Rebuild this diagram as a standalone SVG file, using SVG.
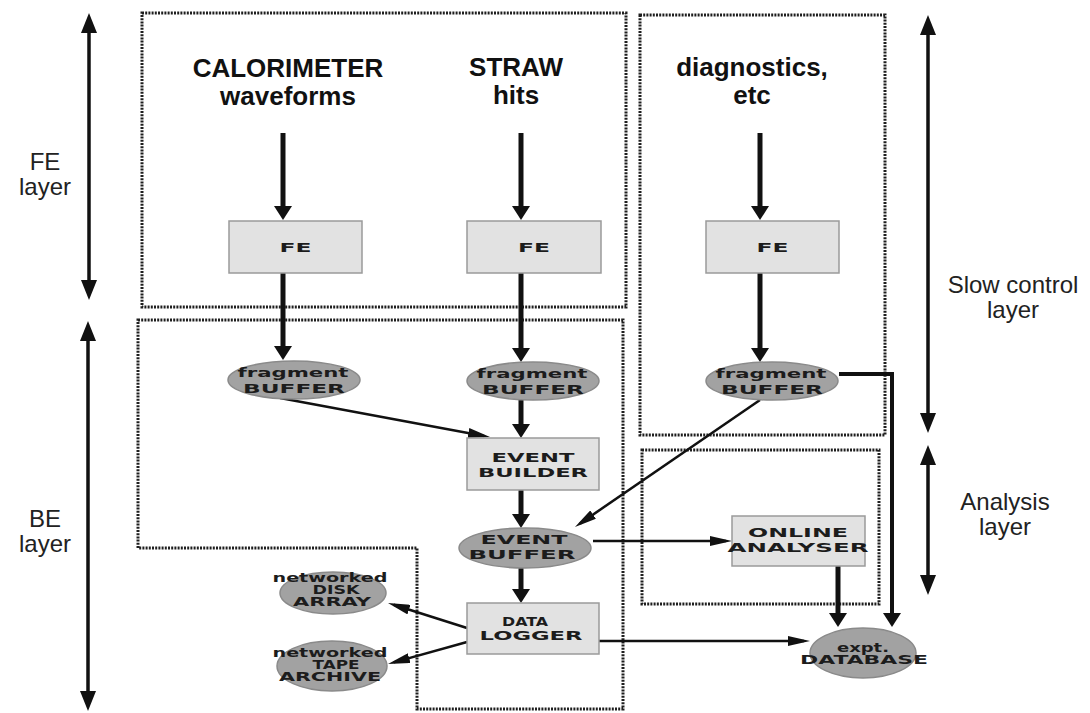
<svg xmlns="http://www.w3.org/2000/svg" width="1090" height="713" viewBox="0 0 1090 713">
<style>
.bg{fill:#fff}
.zone{fill:none;stroke:#1e1e1e;stroke-width:3;stroke-dasharray:2 1.2}
.box{fill:#e2e2e2;stroke:#9a9a9a;stroke-width:1.5}
.ell{fill:#a2a2a2;stroke:#8a8a8a;stroke-width:1.5}
.src{font-family:"Liberation Sans",Arial,sans-serif;font-weight:bold;font-size:26px;fill:#111;text-anchor:middle}
.side{font-family:"Liberation Sans",Arial,sans-serif;font-size:24px;fill:#222;text-anchor:middle}
.nt{font-family:"DejaVu Sans","Liberation Sans",sans-serif;font-weight:bold;font-size:12px;fill:#1c1c1c;text-anchor:middle}
.big{fill:none;stroke:#111;stroke-width:5;marker-end:url(#mBig)}
.thin{fill:none;stroke:#111;stroke-width:2.5;marker-end:url(#mThin)}
.lay{fill:none;stroke:#111;stroke-width:3.5;marker-start:url(#mLay);marker-end:url(#mLay)}
</style>
<defs>
<marker id="mBig" markerUnits="userSpaceOnUse" viewBox="0 0 14 18" markerWidth="14" markerHeight="18" refX="9" refY="9" orient="auto"><path d="M0,0 L14,9 L0,18 z" fill="#111"/></marker>
<marker id="mThin" markerUnits="userSpaceOnUse" viewBox="0 0 22 10" markerWidth="22" markerHeight="10" refX="16" refY="5" orient="auto"><path d="M0,0 L22,5 L0,10 z" fill="#111"/></marker>
<marker id="mLay" markerUnits="userSpaceOnUse" viewBox="0 0 20 16" markerWidth="20" markerHeight="16" refX="15" refY="8" orient="auto-start-reverse"><path d="M0,0 L20,8 L0,16 z" fill="#111"/></marker>
</defs>
<rect class="bg" x="0" y="0" width="1090" height="713"/>

<g id="zones">
<rect class="zone" x="142" y="13" width="484" height="294"/>
<rect class="zone" x="640" y="15" width="245" height="420"/>
<rect class="zone" x="642" y="450" width="237" height="154"/>
<path class="zone" d="M138,320 H623 V709 H417 V548 H138 Z"/>
</g>

<g id="layer-labels">
<text class="side" x="45" y="170">FE</text>
<text class="side" x="45" y="195">layer</text>
<text class="side" x="45" y="527">BE</text>
<text class="side" x="45" y="552">layer</text>
<text class="side" x="1013" y="293">Slow control</text>
<text class="side" x="1013" y="318">layer</text>
<text class="side" x="1005" y="510">Analysis</text>
<text class="side" x="1005" y="535">layer</text>
</g>

<g id="sources">
<text class="src" x="288" y="77">CALORIMETER</text>
<text class="src" x="288" y="105">waveforms</text>
<text class="src" x="516" y="76">STRAW</text>
<text class="src" x="516" y="104">hits</text>
<text class="src" x="752" y="76">diagnostics,</text>
<text class="src" x="752" y="104">etc</text>
</g>

<g id="connectors">
<line class="lay" x1="89" y1="18" x2="89" y2="295"/>
<line class="lay" x1="88" y1="326" x2="88" y2="706"/>
<line class="lay" x1="928" y1="20" x2="928" y2="428"/>
<line class="lay" x1="928" y1="450" x2="928" y2="590"/>

<line class="big" x1="283" y1="133" x2="283" y2="215"/>
<line class="big" x1="521" y1="133" x2="521" y2="215"/>
<line class="big" x1="760" y1="133" x2="760" y2="215"/>
<line class="big" x1="283" y1="273" x2="283" y2="355"/>
<line class="big" x1="521" y1="273" x2="521" y2="357"/>
<line class="big" x1="760" y1="273" x2="760" y2="357"/>
<line class="big" x1="521" y1="400" x2="521" y2="433"/>
<line class="big" x1="521" y1="490" x2="521" y2="523"/>
<line class="big" x1="521" y1="568" x2="521" y2="598"/>
<line class="big" x1="838" y1="566" x2="838" y2="622"/>
<path class="big" d="M839,374 H892 V622" style="stroke-width:4"/>

<line class="thin" x1="280" y1="398" x2="484.1" y2="435.9"/>
<line class="thin" x1="760" y1="400" x2="579.9" y2="523.6"/>
<line class="thin" x1="593" y1="541" x2="726" y2="541"/>
<line class="thin" x1="467" y1="628" x2="393.7" y2="604.8"/>
<line class="thin" x1="467" y1="642" x2="393.8" y2="662.4"/>
<line class="thin" x1="599" y1="641" x2="804" y2="641"/>
</g>

<g id="fe-calo">
<rect class="box" x="229" y="221" width="133" height="52"/>
<text class="nt" x="295.5" y="252" textLength="32" lengthAdjust="spacingAndGlyphs">FE</text>
</g>
<g id="fe-straw">
<rect class="box" x="467" y="221" width="134" height="52"/>
<text class="nt" x="534" y="252" textLength="32" lengthAdjust="spacingAndGlyphs">FE</text>
</g>
<g id="fe-diag">
<rect class="box" x="706" y="221" width="133" height="52"/>
<text class="nt" x="772.5" y="252" textLength="32" lengthAdjust="spacingAndGlyphs">FE</text>
</g>

<g id="frag-calo">
<ellipse class="ell" cx="294" cy="380" rx="66" ry="19"/>
<text class="nt" x="293" y="377" textLength="111" lengthAdjust="spacingAndGlyphs">fragment</text>
<text class="nt" x="294" y="393" textLength="102" lengthAdjust="spacingAndGlyphs">BUFFER</text>
</g>
<g id="frag-straw">
<ellipse class="ell" cx="533" cy="381" rx="66" ry="19"/>
<text class="nt" x="532" y="378" textLength="111" lengthAdjust="spacingAndGlyphs">fragment</text>
<text class="nt" x="533" y="394" textLength="102" lengthAdjust="spacingAndGlyphs">BUFFER</text>
</g>
<g id="frag-diag">
<ellipse class="ell" cx="772" cy="381" rx="66" ry="19"/>
<text class="nt" x="771" y="378" textLength="111" lengthAdjust="spacingAndGlyphs">fragment</text>
<text class="nt" x="772" y="394" textLength="102" lengthAdjust="spacingAndGlyphs">BUFFER</text>
</g>

<g id="event-builder">
<rect class="box" x="467" y="438" width="132" height="52"/>
<text class="nt" x="533" y="462" textLength="83" lengthAdjust="spacingAndGlyphs">EVENT</text>
<text class="nt" x="533" y="477" textLength="110" lengthAdjust="spacingAndGlyphs">BUILDER</text>
</g>

<g id="event-buffer">
<ellipse class="ell" cx="525" cy="548" rx="66" ry="20"/>
<text class="nt" x="524" y="544" textLength="87" lengthAdjust="spacingAndGlyphs">EVENT</text>
<text class="nt" x="522" y="559" textLength="107" lengthAdjust="spacingAndGlyphs">BUFFER</text>
</g>

<g id="data-logger">
<rect class="box" x="467" y="603" width="132" height="51"/>
<text class="nt" x="525" y="626" textLength="46" lengthAdjust="spacingAndGlyphs">DATA</text>
<text class="nt" x="531" y="640" textLength="103" lengthAdjust="spacingAndGlyphs">LOGGER</text>
</g>

<g id="online-analyser">
<rect class="box" x="732" y="516" width="133" height="50"/>
<text class="nt" x="798" y="537" textLength="100" lengthAdjust="spacingAndGlyphs">ONLINE</text>
<text class="nt" x="798" y="552" textLength="141" lengthAdjust="spacingAndGlyphs">ANALYSER</text>
</g>

<g id="disk-array">
<ellipse class="ell" cx="333" cy="593" rx="53" ry="21"/>
<text class="nt" x="330" y="582" textLength="115" lengthAdjust="spacingAndGlyphs">networked</text>
<text class="nt" x="336" y="594" textLength="47" lengthAdjust="spacingAndGlyphs">DISK</text>
<text class="nt" x="332" y="606" textLength="78" lengthAdjust="spacingAndGlyphs">ARRAY</text>
</g>

<g id="tape-archive">
<ellipse class="ell" cx="332" cy="666" rx="55" ry="25"/>
<text class="nt" x="330" y="657" textLength="115" lengthAdjust="spacingAndGlyphs">networked</text>
<text class="nt" x="336" y="669" textLength="47" lengthAdjust="spacingAndGlyphs">TAPE</text>
<text class="nt" x="330" y="681" textLength="102" lengthAdjust="spacingAndGlyphs">ARCHIVE</text>
</g>

<g id="expt-database">
<ellipse class="ell" cx="863" cy="653" rx="53" ry="25"/>
<text class="nt" x="863" y="652" textLength="52" lengthAdjust="spacingAndGlyphs">expt.</text>
<text class="nt" x="864" y="664" textLength="128" lengthAdjust="spacingAndGlyphs">DATABASE</text>
</g>
</svg>
